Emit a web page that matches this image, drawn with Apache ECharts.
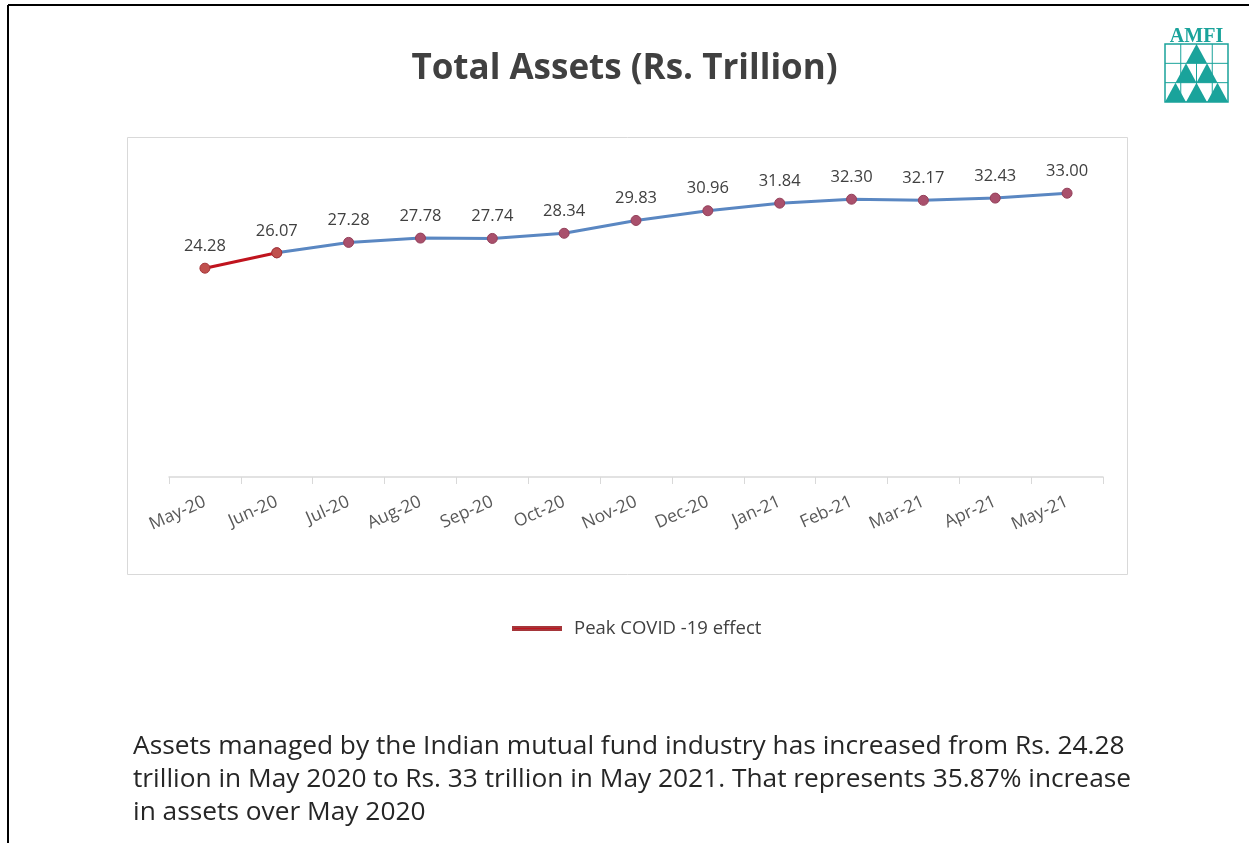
<!DOCTYPE html>
<html>
<head>
<meta charset="utf-8">
<title>Total Assets (Rs. Trillion)</title>
<script src="https://cdn.jsdelivr.net/npm/echarts@6/dist/echarts.min.js"></script>
<style>
  html, body { margin: 0; padding: 0; background: #ffffff; }
  #chart { width: 1249px; height: 843px; }
</style>
</head>
<body>
<div id="chart"></div>
<script>
// Monthly total assets of the mutual fund industry, Rs. trillion
const months = ['May-20', 'Jun-20', 'Jul-20', 'Aug-20', 'Sep-20', 'Oct-20', 'Nov-20',
                'Dec-20', 'Jan-21', 'Feb-21', 'Mar-21', 'Apr-21', 'May-21'];
const assets = [24.28, 26.07, 27.28, 27.78, 27.74, 28.34, 29.83,
                30.96, 31.84, 32.30, 32.17, 32.43, 33.00];
// Months shaded as the peak COVID-19 period
const covidMonths = ['May-20', 'Jun-20'];

const titleText = 'Total Assets (Rs. Trillion)';
const legendText = 'Peak COVID -19 effect';
const noteLines = [
  'Assets managed by the Indian mutual fund industry has increased from Rs. 24.28',
  'trillion in May 2020 to Rs. 33 trillion in May 2021. That represents 35.87% increase',
  'in assets over May 2020'
];

const covidData = months.map((m, i) => covidMonths.includes(m) ? assets[i] : null);
const lastCovid = Math.max(...covidMonths.map(m => months.indexOf(m)));
const restData = months.map((m, i) => i >= lastCovid ? assets[i] : null);

const FONT = 'Open Sans, Lato, sans-serif';
const TEAL = '#1aa39b';

// AMFI emblem: grid box with a stacked pyramid of triangles
function logoElements() {
  const x0 = 1165, x1 = 1228, y0 = 44, y1 = 102;
  const w = (x1 - x0) / 3, h = (y1 - y0) / 3;
  const els = [];
  els.push({ type: 'rect', shape: { x: x0, y: y0, width: x1 - x0, height: y1 - y0 },
             style: { fill: 'none', stroke: TEAL, lineWidth: 1.5 } });
  for (let k = 1; k < 3; k++) {
    els.push({ type: 'line', shape: { x1: x0, y1: y0 + k * h, x2: x1, y2: y0 + k * h },
               style: { stroke: TEAL, lineWidth: 1 } });
  }
  for (let k = 1; k < 4; k++) {
    const xx = x0 + k * (x1 - x0) / 4;
    els.push({ type: 'line', shape: { x1: xx, y1: y0, x2: xx, y2: y1 },
               style: { stroke: TEAL, lineWidth: 1 } });
  }
  const cx = (x0 + x1) / 2;
  for (let r = 0; r < 3; r++) {
    for (let j = 0; j <= r; j++) {
      const ax = cx - r * w / 2 + j * w;
      const ay = y0 + r * h;
      els.push({ type: 'polygon',
                 shape: { points: [[ax, ay], [ax - w / 2, ay + h], [ax + w / 2, ay + h]] },
                 style: { fill: TEAL } });
    }
  }
  els.push({ type: 'text', x: (x0 + x1) / 2, y: 37,
             style: { text: 'AMFI', fill: TEAL, font: 'bold 20px "Liberation Serif", serif',
                      align: 'center', verticalAlign: 'middle' } });
  return els;
}

const chart = echarts.init(document.getElementById('chart'), null, { renderer: 'canvas' });

chart.setOption({
  backgroundColor: '#ffffff',
  animation: false,
  title: {
    text: titleText,
    left: 'center',
    top: 47,
    textStyle: { fontFamily: FONT, fontSize: 35, fontWeight: 'bold', color: '#404040' }
  },
  legend: {
    data: [{ name: legendText, icon: 'rect', itemStyle: { color: '#C0141E' } }],
    left: 507,
    top: 614,
    itemWidth: 48,
    itemHeight: 3,
    itemGap: 10,
    textStyle: { fontFamily: FONT, fontSize: 18.5, color: '#404040', padding: [0, 0, 0, 8] }
  },
  grid: { left: 169, right: 146, top: 133, bottom: 366 },
  xAxis: {
    type: 'category',
    data: months,
    boundaryGap: true,
    axisLine: { show: true, lineStyle: { color: '#D9D9D9', width: 1.5 } },
    axisTick: { show: true, length: 7, lineStyle: { color: '#D9D9D9' } },
    axisLabel: { rotate: 24, margin: 24, fontFamily: FONT, fontSize: 17.5, color: '#595959' }
  },
  yAxis: {
    type: 'value',
    min: 0,
    max: 40,
    show: false,
    splitLine: { show: false }
  },
  series: [
    {
      name: '',
      type: 'line',
      data: restData,
      z: 2,
      symbol: 'circle',
      symbolSize: 10,
      lineStyle: { color: '#5A87C2', width: 3 },
      itemStyle: { color: '#A9506C', borderColor: '#94405A', borderWidth: 1 },
      label: {
        show: true, position: 'top', distance: 8,
        fontFamily: FONT, fontSize: 16.5, color: '#404040',
        formatter: p => p.dataIndex >= lastCovid ? p.value.toFixed(2) : ''
      }
    },
    {
      name: legendText,
      type: 'line',
      data: covidData,
      z: 3,
      symbol: 'circle',
      symbolSize: 10,
      lineStyle: { color: '#C0141E', width: 3 },
      itemStyle: { color: '#C0504D', borderColor: '#A5363A', borderWidth: 1 },
      label: {
        show: true, position: 'top', distance: 8,
        fontFamily: FONT, fontSize: 16.5, color: '#404040',
        formatter: p => p.dataIndex < lastCovid ? p.value.toFixed(2) : ''
      }
    }
  ],
  graphic: [
    // page frame (top and left rules)
    { type: 'line', shape: { x1: 8, y1: 5, x2: 1249, y2: 5 }, style: { stroke: '#000', lineWidth: 2 } },
    { type: 'line', shape: { x1: 8, y1: 5, x2: 8, y2: 843 }, style: { stroke: '#000', lineWidth: 2 } },
    // chart area border
    { type: 'rect', z: -1, shape: { x: 127.5, y: 137.5, width: 1000, height: 437 },
      style: { fill: 'none', stroke: '#D9D9D9', lineWidth: 1 } },
    ...logoElements(),
    ...noteLines.map((t, i) => ({
      type: 'text', left: 133, top: 734 + i * 33,
      style: { text: t, font: '26.3px ' + FONT, fill: '#262626' }
    }))
  ]
});
</script>
</body>
</html>
